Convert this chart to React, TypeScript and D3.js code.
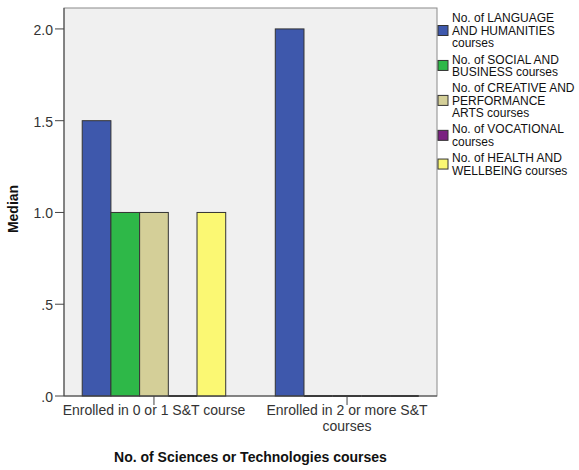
import React from "react";
import * as d3 from "d3";

const categories = ["Enrolled in 0 or 1 S&T course", "Enrolled in 2 or more S&T courses"];
const categoryLabelLines = [["Enrolled in 0 or 1 S&T course"], ["Enrolled in 2 or more S&T", "courses"]];
const seriesNames = [
  "No. of LANGUAGE AND HUMANITIES courses",
  "No. of SOCIAL AND BUSINESS courses",
  "No. of CREATIVE AND PERFORMANCE ARTS courses",
  "No. of VOCATIONAL courses",
  "No. of HEALTH AND WELLBEING courses",
];
const legendLines = [
  ["No. of LANGUAGE", "AND HUMANITIES", "courses"],
  ["No. of SOCIAL AND", "BUSINESS courses"],
  ["No. of CREATIVE AND", "PERFORMANCE", "ARTS courses"],
  ["No. of VOCATIONAL", "courses"],
  ["No. of HEALTH AND", "WELLBEING courses"],
];
const seriesColors = ["#3e58ac", "#2eb848", "#d4cf98", "#7a2281", "#fbf873"];
// values[series][category]
const languageValues = [1.5, 2.0];
const socialValues = [1.0, 0];
const creativeValues = [1.0, 0];
const vocationalValues = [0, 0];
const healthValues = [1.0, 0];
const values = [languageValues, socialValues, creativeValues, vocationalValues, healthValues];
const yTicks = [0, 0.5, 1.0, 1.5, 2.0];

const W = 579, H = 470;
const plot = { left: 64, right: 437, top: 8, bottom: 396 };

export default function App() {
  const y = d3.scaleLinear().domain([0, 2.114]).range([plot.bottom, plot.top]);
  const x = d3.scalePoint<string>().domain(categories).range([plot.left, plot.right]).padding(0.466);
  const groupW = 143.5;
  const inner = d3.scaleBand<number>().domain(d3.range(seriesNames.length)).range([-groupW / 2, groupW / 2]).padding(0);
  const fmt = (d: number) => d3.format(".1f")(d).replace(/^0/, "");
  const font = "'Liberation Sans', Arial, sans-serif";

  // legend layout
  const lineH = 12.5, gap = 16.2;
  let base = 22.3;
  const legendItems = legendLines.map((lines, i) => {
    const first = base;
    const last = base + (lines.length - 1) * lineH;
    base = last + gap;
    return { lines, first, last, i };
  });

  return (
    <svg width={W} height={H} style={{ position: "absolute", left: 0, top: 0, background: "#fff" }} fontFamily={font}>
      <rect x={plot.left} y={plot.top} width={plot.right - plot.left} height={plot.bottom - plot.top} fill="#f0f0f0" stroke="#8a8a8a" strokeWidth={1} />
      {categories.map((c, ci) =>
        values.map((vals, si) => {
          const v = vals[ci];
          const x0 = (x(c) as number) + (inner(si) as number);
          const bw = inner.bandwidth();
          if (v === 0) {
            return <line key={`${ci}-${si}`} x1={x0} x2={x0 + bw} y1={y(0)} y2={y(0)} stroke="#333" strokeWidth={2} />;
          }
          return (
            <rect key={`${ci}-${si}`} x={x0} y={y(v)} width={bw} height={y(0) - y(v)} fill={seriesColors[si]} stroke="#333" strokeWidth={1} />
          );
        })
      )}
      {/* axes */}
      <line x1={plot.left} x2={plot.left} y1={plot.top} y2={plot.bottom} stroke="#444" />
      <line x1={plot.left} x2={plot.right} y1={plot.bottom} y2={plot.bottom} stroke="#444" />
      {yTicks.map((t) => (
        <g key={t}>
          <line x1={plot.left - 9} x2={plot.left} y1={y(t)} y2={y(t)} stroke="#444" />
          <text x={plot.left - 11} y={y(t) + 6} textAnchor="end" fontSize={14} fill="#333">{fmt(t)}</text>
        </g>
      ))}
      {categories.map((c, ci) => (
        <g key={c}>
          <line x1={x(c)} x2={x(c)} y1={plot.bottom} y2={plot.bottom + 9} stroke="#444" />
          {categoryLabelLines[ci].map((l, li) => (
            <text key={li} x={x(c)} y={plot.bottom + 19 + li * 16} textAnchor="middle" fontSize={14} fill="#333">{l}</text>
          ))}
        </g>
      ))}
      <text x={(plot.left + plot.right) / 2} y={462} textAnchor="middle" fontSize={14} fontWeight="bold" fill="#111">No. of Sciences or Technologies courses</text>
      <text transform={`translate(18,${209}) rotate(-90)`} textAnchor="middle" fontSize={14} fontWeight="bold" fill="#111">Median</text>
      {/* legend */}
      {legendItems.map(({ lines, first, last, i }) => {
        const cy = (first - 8.6 + last) / 2;
        return (
          <g key={i}>
            <rect x={438} y={cy - 5} width={10} height={10} fill={seriesColors[i]} stroke="#333" strokeWidth={1} />
            {lines.map((l, li) => (
              <text key={li} x={452} y={first + li * lineH} fontSize={12} fill="#111">{l}</text>
            ))}
          </g>
        );
      })}
    </svg>
  );
}
